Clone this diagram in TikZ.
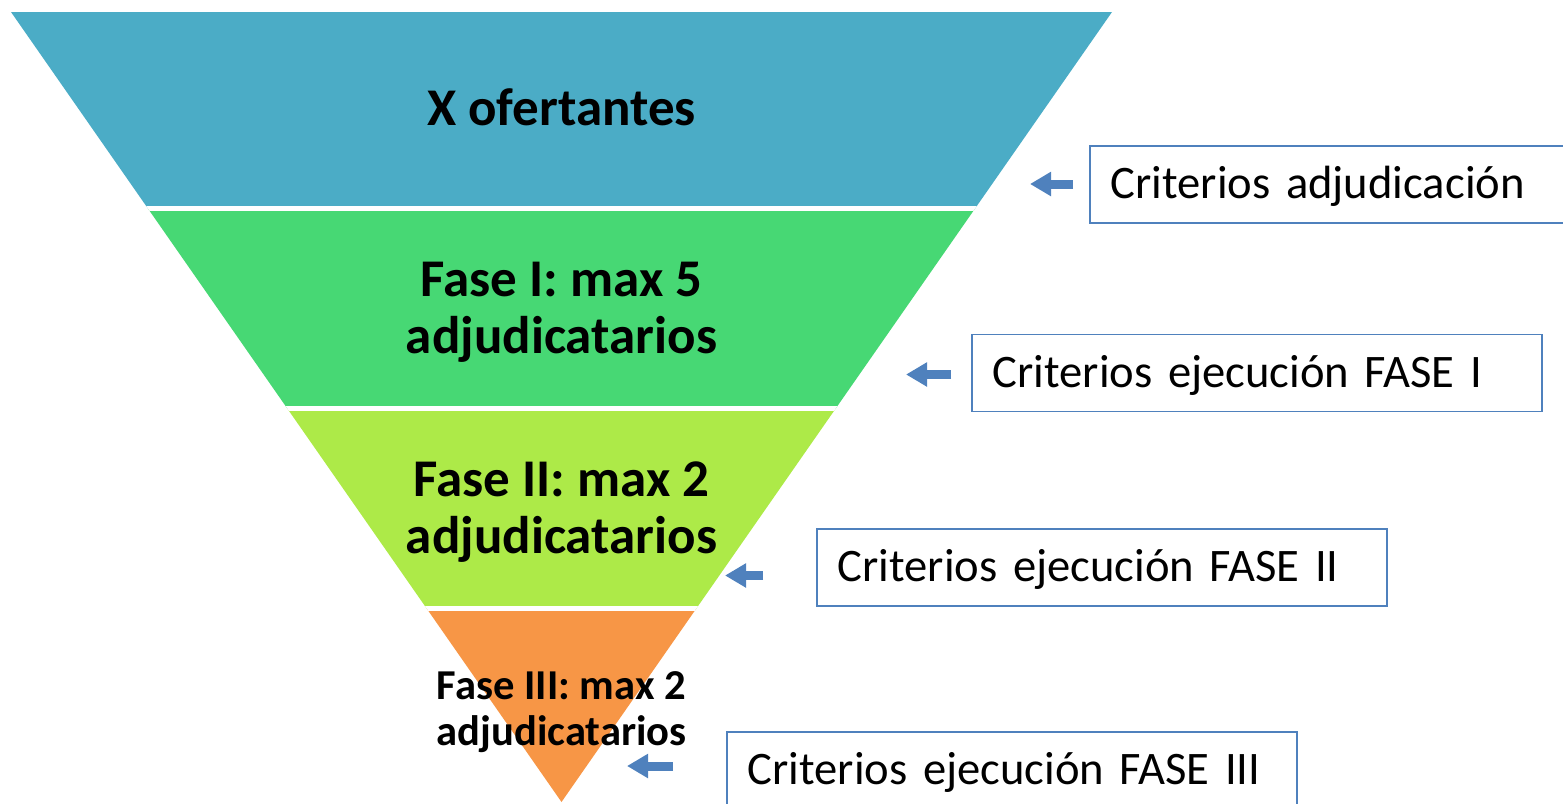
\documentclass[tikz,border=0pt]{standalone}
\usepackage{fontspec}
\setmainfont{Carlito}
\usetikzlibrary{arrows.meta,calc,positioning}

\definecolor{funnelBlue}{HTML}{4BACC6}
\definecolor{funnelGreen}{HTML}{47D874}
\definecolor{funnelLime}{HTML}{ADEA48}
\definecolor{funnelOrange}{HTML}{F79646}
\definecolor{boxBlue}{HTML}{4F81BD}

\tikzset{
  band/.style={font=\fontsize{53}{57.5}\selectfont\bfseries, align=center},
  smallband/.style={font=\fontsize{42.6}{45.5}\selectfont\bfseries, align=center},
  critbox/.style={draw=boxBlue, line width=1.5pt, anchor=west, minimum height=77pt,
    text height=38pt, text depth=9.5pt,
    text width=528pt, inner xsep=21pt, align=left, font=\fontsize{46.6}{52}\selectfont},
  pointer/.style={draw=boxBlue, line width=9pt, -{Triangle[length=21pt,width=23pt]}}
}

\begin{document}
\begin{tikzpicture}[x=1pt,y=-1pt]

    \useasboundingbox (0,0) rectangle (1563,803);

    \coordinate (tl) at (11,12);
    \coordinate (tr) at (1112,12);
    \coordinate (apex) at (561.5,802);

    % funnel bands
    \begin{scope}
        \clip (tl) -- (tr) -- (apex) -- cycle;
        \fill[funnelBlue] (0,0) rectangle (1563,208.5);
        \fill[funnelGreen] (0,208.5) rectangle (1563,408.5);
        \fill[funnelLime] (0,408.5) rectangle (1563,608.5);
        \fill[funnelOrange] (0,608.5) rectangle (1563,810);
        \foreach \y in {208.5,408.5,608.5}
            \draw[white, line width=5pt] (0,\y) -- (1563,\y);
    \end{scope}

    \node[band] (xofer) at (561.5,107.5) {X ofertantes};
    \node[band] (faseI) at (561.5,312.5) {Fase I: max 5\\adjudicatarios};
    \node[band] (faseII) at (561.5,512) {Fase II: max 2\\adjudicatarios};
    \node[smallband] (faseIII) at (561.5,712) {Fase III: max 2\\adjudicatarios};

    % criteria boxes
    \node[critbox] (critAdj) at (1089,184.5) {Criterios adjudicación};
    \node[critbox] (critI) at (971,373) {Criterios ejecución FASE I};
    \node[critbox] (critII) at (816,567.5) {Criterios ejecución FASE II};
    \node[critbox] (critIII) at (726,770.5) {Criterios ejecución FASE III};

    \coordinate (tailAdj) at (1073,184);
    \coordinate (tipAdj) at (1030,184);
    \coordinate (tailI) at (951,374.5);
    \coordinate (tipI) at (906,374.5);
    \coordinate (tailII) at (763,575.5);
    \coordinate (tipII) at (725,575.5);
    \coordinate (tailIII) at (673,766);
    \coordinate (tipIII) at (627,766);

    \draw[pointer] (tailAdj) -- (tipAdj);
    \draw[pointer] (tailI) -- (tipI);
    \draw[pointer] (tailII) -- (tipII);
    \draw[pointer] (tailIII) -- (tipIII);
\end{tikzpicture}
\end{document}
